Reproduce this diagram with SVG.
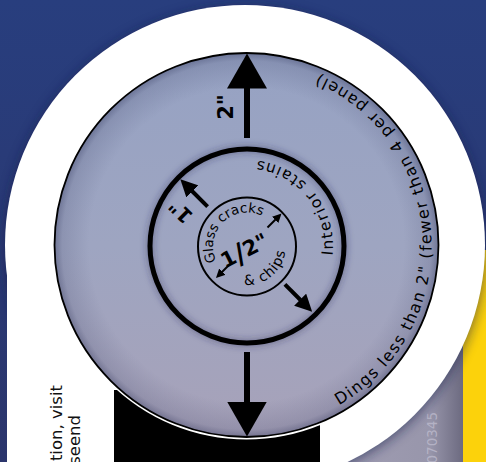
<svg xmlns="http://www.w3.org/2000/svg" width="486" height="462" viewBox="0 0 486 462">
<style>
.lbl{font-family:"DejaVu Sans","Noto Sans",sans-serif;fill:#000}
.big{font-family:"DejaVu Sans","Noto Sans",sans-serif;font-weight:700;fill:#000}
.side{font-family:"DejaVu Sans","Noto Sans",sans-serif;font-size:16.5px;fill:#111}
.sh{stroke:#000;fill:none}
</style>
<defs>
<linearGradient id="bg" x1="0" y1="0" x2="0" y2="1"><stop offset="0" stop-color="#283e7e"/><stop offset="1" stop-color="#2b356c"/></linearGradient>
<linearGradient id="disc" x1="0" y1="0" x2="0" y2="1"><stop offset="0" stop-color="#96a2c3"/><stop offset="0.5" stop-color="#9ea5c1"/><stop offset="1" stop-color="#a7a2b9"/></linearGradient>
<radialGradient id="vig" cx="0.5" cy="0.5" r="0.5"><stop offset="0.82" stop-color="#2a2f55" stop-opacity="0"/><stop offset="0.96" stop-color="#2a2f55" stop-opacity="0.15"/><stop offset="1" stop-color="#2a2f55" stop-opacity="0.4"/></radialGradient>
<linearGradient id="panel" x1="0" y1="0" x2="1" y2="0"><stop offset="0" stop-color="#a09db3"/><stop offset="0.75" stop-color="#9896ab"/><stop offset="1" stop-color="#6c6a80"/></linearGradient>
<filter id="blur6" x="-20%" y="-20%" width="140%" height="140%"><feGaussianBlur stdDeviation="6"/></filter>
<filter id="blur3" x="-20%" y="-20%" width="140%" height="140%"><feGaussianBlur stdDeviation="3"/></filter>
<marker id="hBig" markerUnits="userSpaceOnUse" viewBox="0 0 35 40" markerWidth="35" markerHeight="40" refX="0.5" refY="20" orient="auto"><path d="M0,0 L35,20 L0,40 Z" fill="#000"/></marker>
<marker id="hMid" markerUnits="userSpaceOnUse" viewBox="0 0 17 17" markerWidth="17" markerHeight="17" refX="0.5" refY="8.5" orient="auto"><path d="M0,0 L17,8.5 L0,17 Z" fill="#000"/></marker>
<marker id="hSm" markerUnits="userSpaceOnUse" viewBox="0 0 9 9" markerWidth="9" markerHeight="9" refX="0.5" refY="4.5" orient="auto"><path d="M0,0 L9,4.5 L0,9 Z" fill="#000"/></marker>
<path id="pOuter" d="M339,405.22 A185,185 0 0 0 314.3,72.87"/>
<path id="pInterior" d="M332.45,255.74 A86,86 0 0 0 255.99,160.47"/>
<path id="pGlass" d="M216.44,261.4 A34,34 0 0 1 259.74,214.98"/>
<path id="pChips" d="M244.3,284.9 A38.5,38.5 0 0 0 285.2,251.2"/>
</defs>

<g id="background">
<rect width="486" height="462" fill="url(#bg)"/>
<rect x="463" y="250" width="23" height="212" fill="#fcd20b"/>
<rect x="330" y="330" width="133" height="132" fill="url(#panel)"/>
<text transform="translate(437,412) rotate(-90)" text-anchor="end" font-family="DejaVu Sans, sans-serif" font-size="13.5" fill="#bdbbcd" fill-opacity="0.8">3070345</text>
<circle cx="245" cy="247" r="241" fill="#141c48" opacity="0.55" filter="url(#blur6)"/>
<rect x="7" y="240" width="200" height="222" fill="#fff"/>
<circle cx="245" cy="245" r="240" fill="#fff"/>
<text class="side" transform="translate(62,385) rotate(-90)" text-anchor="end">tion, visit</text>
<text class="side" transform="translate(80,415) rotate(-90)" text-anchor="end">seend</text>
<rect x="114" y="390" width="206" height="72" fill="#000"/>
</g>

<g id="outer-disc">
<circle cx="246.5" cy="245" r="194.5" fill="#fff"/>
<circle cx="246.5" cy="245" r="192" fill="url(#disc)"/>
<circle cx="246.5" cy="245" r="192" fill="url(#vig)"/>
<circle cx="246.5" cy="245" r="192" class="sh" stroke-width="1.8"/>
<text class="lbl" font-size="16"><textPath href="#pOuter" textLength="410" lengthAdjust="spacing">Dings less than 2" (fewer than 4 per panel)</textPath></text>
</g>

<g id="middle-ring">
<circle cx="247" cy="246" r="97" fill="none" stroke="#2a2f55" stroke-opacity="0.35" stroke-width="8" filter="url(#blur3)"/>
<circle cx="247" cy="246" r="97" class="sh" stroke-width="5"/>
<text class="lbl" font-size="15.5"><textPath href="#pInterior" textLength="134" lengthAdjust="spacing">Interior stains</textPath></text>
</g>

<g id="inner-circle">
<circle cx="247" cy="246.5" r="49" class="sh" stroke-width="2"/>
<text class="lbl" font-size="13.5"><textPath href="#pGlass" textLength="84" lengthAdjust="spacing">Glass cracks</textPath></text>
<text class="lbl" font-size="14"><textPath href="#pChips" textLength="58" lengthAdjust="spacing">&amp; chips</textPath></text>
<text class="big" font-size="21" transform="translate(247.6,257.1) rotate(-27)" text-anchor="middle">1<tspan font-size="28" dy="3">/</tspan><tspan dy="-3">2"</tspan></text>
</g>

<g id="labels">
<text class="big" font-size="21" transform="translate(233,107) rotate(-90)" text-anchor="middle">2"</text>
<text class="big" font-size="20" transform="translate(185.7,206.3) rotate(-135)" text-anchor="middle">1"</text>
</g>

<g id="connectors">
<line x1="247" y1="138" x2="247" y2="88" class="sh" stroke-width="6" marker-end="url(#hBig)"/>
<line x1="247" y1="352" x2="247" y2="402" class="sh" stroke-width="6" marker-end="url(#hBig)"/>
<line x1="207.6" y1="206.6" x2="192" y2="191" class="sh" stroke-width="4" marker-end="url(#hMid)"/>
<line x1="284.9" y1="284.4" x2="300.5" y2="300" class="sh" stroke-width="4" marker-end="url(#hMid)"/>
<line x1="230" y1="264" x2="222" y2="272" class="sh" stroke-width="2" marker-end="url(#hSm)"/>
<line x1="267.5" y1="227.5" x2="275.5" y2="219.5" class="sh" stroke-width="2" marker-end="url(#hSm)"/>
</g>
</svg>
